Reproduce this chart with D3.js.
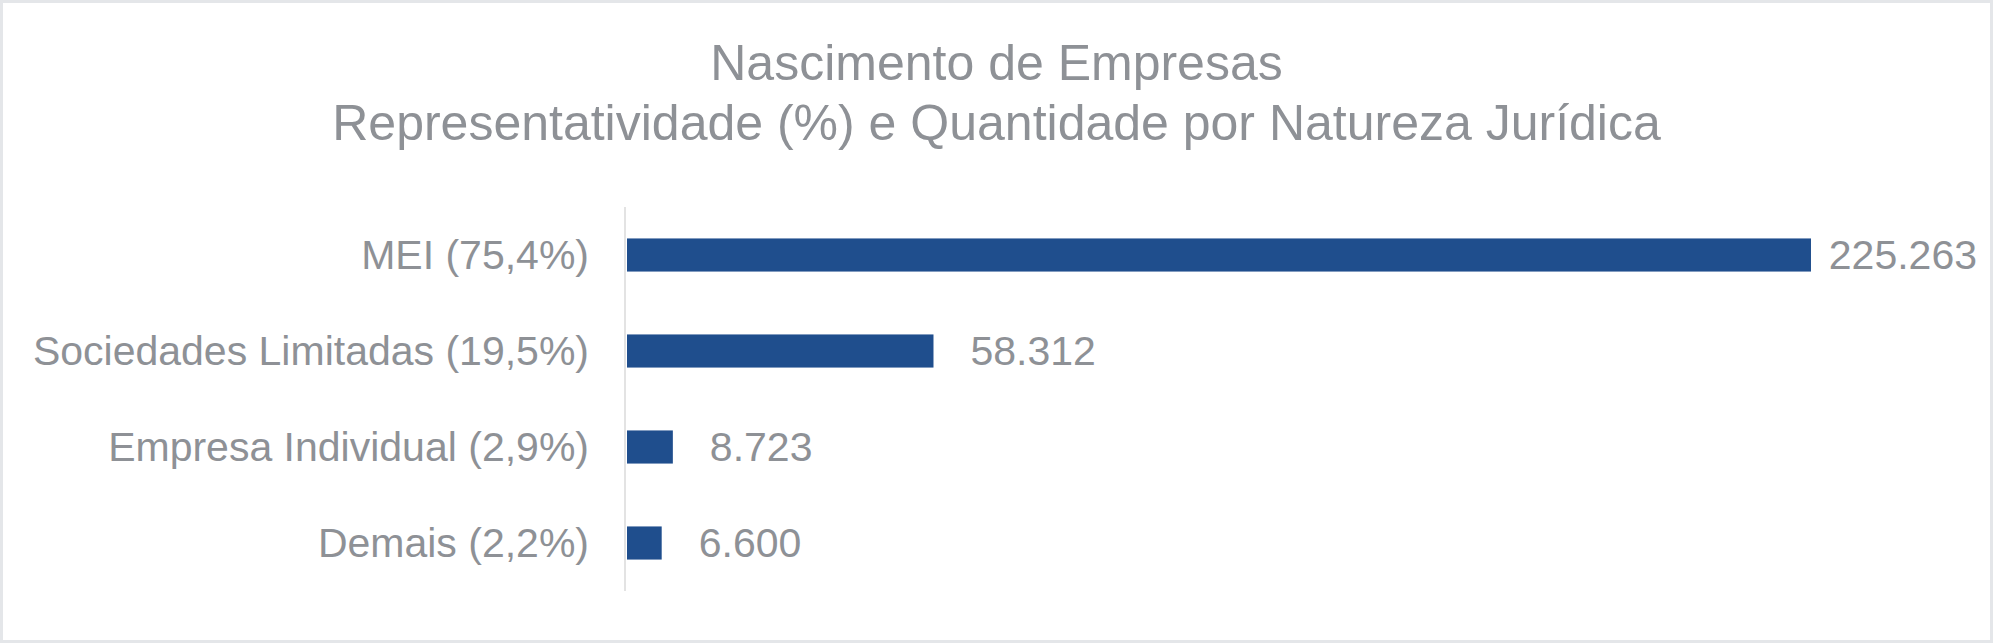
<!DOCTYPE html>
<html>
<head>
<meta charset="utf-8">
<script src="https://cdn.jsdelivr.net/npm/d3@7"></script>
<style>
  html, body { margin: 0; padding: 0; background: #ffffff; }
  svg { display: block; }
</style>
</head>
<body>
<svg id="chart" width="1993" height="643"></svg>
<script>
const titleLines = ["Nascimento de Empresas", "Representatividade (%) e Quantidade por Natureza Jurídica"];
const categories = ["MEI (75,4%)", "Sociedades Limitadas (19,5%)", "Empresa Individual (2,9%)", "Demais (2,2%)"];
const values = [225263, 58312, 8723, 6600];
const valueLabels = ["225.263", "58.312", "8.723", "6.600"];

const W = 1993, H = 643;
const font = "'Liberation Sans', Arial, Helvetica, sans-serif";
const textColor = "#8e9196";
const barColor = "#1f4e8d";

const svg = d3.select("#chart");

// frame
svg.append("rect")
  .attr("x", 1.5).attr("y", 1.5)
  .attr("width", W - 3).attr("height", H - 3)
  .attr("fill", "#ffffff")
  .attr("stroke", "#e4e6e9")
  .attr("stroke-width", 3);

// title
svg.append("text")
  .attr("x", W / 2)
  .attr("y", 80)
  .attr("text-anchor", "middle")
  .attr("font-family", font)
  .attr("font-size", 50)
  .attr("fill", textColor)
  .selectAll("tspan")
  .data(titleLines)
  .join("tspan")
  .attr("x", W / 2)
  .attr("dy", (d, i) => i === 0 ? 0 : 60)
  .text(d => d);

const plotLeft = 625, plotTop = 207, plotBottom = 591;
const labelRightLimit = 1977;

const x = d3.scaleLinear().domain([0, 250000]).range([627, 1941]);
const y = d3.scaleBand().domain(categories).range([plotTop, plotBottom]).paddingInner(0.655).paddingOuter(0.3275);

// category axis
const yAxis = d3.axisLeft(y).tickSize(0).tickPadding(36);
const gAxis = svg.append("g")
  .attr("transform", `translate(${plotLeft},0)`)
  .call(yAxis);
gAxis.select(".domain")
  .attr("stroke", "#e3e3e3")
  .attr("stroke-width", 2)
  .attr("d", `M0,${plotTop}V${plotBottom}`);
gAxis.selectAll(".tick text")
  .attr("font-family", font)
  .attr("font-size", 41)
  .attr("fill", textColor)
  .attr("dy", "0.35em");

// bars
svg.append("g")
  .selectAll("rect")
  .data(values)
  .join("rect")
  .attr("x", x(0))
  .attr("y", (d, i) => y(categories[i]))
  .attr("width", d => x(d) - x(0))
  .attr("height", y.bandwidth())
  .attr("fill", barColor);

// value labels
svg.append("g")
  .selectAll("text")
  .data(values)
  .join("text")
  .attr("y", (d, i) => y(categories[i]) + y.bandwidth() / 2)
  .attr("dy", "0.35em")
  .attr("font-family", font)
  .attr("font-size", 41)
  .attr("fill", textColor)
  .text((d, i) => valueLabels[i])
  .each(function(d) {
    const w = this.getComputedTextLength();
    const pos = Math.min(x(d) + 37, labelRightLimit - w);
    d3.select(this).attr("x", pos);
  });
</script>
</body>
</html>
